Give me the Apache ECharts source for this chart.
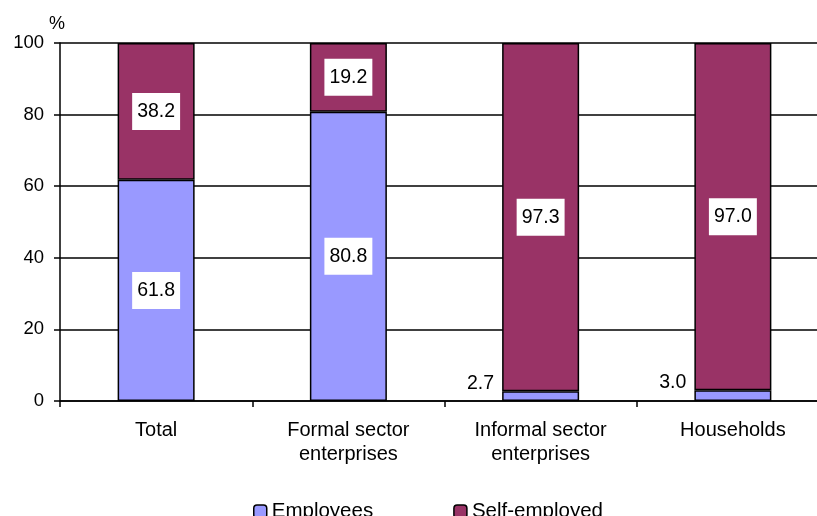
<!DOCTYPE html>
<html>
<head>
<meta charset="utf-8">
<script src="https://cdn.jsdelivr.net/npm/echarts@6/dist/echarts.min.js"></script>
<style>html,body{margin:0;padding:0;background:#fff}#c{width:817px;height:516px}</style>
</head>
<body>
<div id="c"></div>
<script>
var categories = ['Total', 'Formal sector\nenterprises', 'Informal sector\nenterprises', 'Households'];
var employees = [61.8, 80.8, 2.7, 3.0];
var selfEmployed = [38.2, 19.2, 97.3, 97.0];
var yTicks = [0, 20, 40, 60, 80, 100];

var FONT = '"Liberation Sans", Arial, sans-serif';
var boxLabel = {
  show: true, position: 'inside', color: '#000', fontSize: 19.5, fontFamily: FONT,
  backgroundColor: '#fff', padding: [9, 5, 8, 5],
  formatter: function (p) { return p.value.toFixed(1); }
};
var outsideLabel = {
  show: true, position: 'left', offset: [0, -13], distance: 8, color: '#000', fontSize: 19.5, fontFamily: FONT,
  backgroundColor: 'transparent', padding: 0,
  formatter: function (p) { return p.value.toFixed(1); }
};
var empData = employees.map(function (v) {
  return { value: v, label: v < 10 ? outsideLabel : boxLabel };
});

var chart = echarts.init(document.getElementById('c'), null, { renderer: 'canvas' });
chart.setOption({
  animation: false,
  backgroundColor: '#fff',
  grid: { left: 60, width: 769, top: 43, height: 358, containLabel: false, outerBoundsMode: 'none' },
  legend: {
    bottom: -11, left: 248, itemGap: 80, itemWidth: 13, itemHeight: 13,
    textStyle: { fontSize: 20.5, fontFamily: FONT, color: '#000' },
    data: [
      { name: 'Employees', itemStyle: { color: '#9999FF', borderColor: '#000', borderWidth: 1.5 } },
      { name: 'Self-employed', itemStyle: { color: '#993366', borderColor: '#000', borderWidth: 1.5 } }
    ]
  },
  xAxis: {
    type: 'category', data: categories,
    axisLine: { lineStyle: { color: '#000', width: 1.5 } },
    axisTick: { show: true, length: 6, lineStyle: { color: '#000', width: 1.5 } },
    axisLabel: { color: '#000', fontSize: 20, fontFamily: FONT, margin: 17, lineHeight: 24, interval: 0 }
  },
  yAxis: {
    type: 'value', min: yTicks[0], max: yTicks[yTicks.length - 1], interval: 20,
    name: '%', nameLocation: 'end', nameGap: 10,
    nameTextStyle: { color: '#000', fontSize: 18, fontFamily: FONT, align: 'center', padding: [0, 6, 0, 0] },
    axisLine: { show: true, lineStyle: { color: '#000', width: 1.5 } },
    axisTick: { show: true, length: 6, lineStyle: { color: '#000', width: 1.5 } },
    axisLabel: { color: '#000', fontSize: 18.5, fontFamily: FONT, margin: 16 },
    splitLine: { show: true, lineStyle: { color: '#000', width: 1.5 } }
  },
  series: [
    {
      name: 'Employees', type: 'bar', stack: 's', barWidth: 77,
      itemStyle: { color: '#9999FF', borderColor: '#000', borderWidth: 1.5 },
      data: empData
    },
    {
      name: 'Self-employed', type: 'bar', stack: 's', barWidth: 77,
      itemStyle: { color: '#993366', borderColor: '#000', borderWidth: 1.5 },
      label: boxLabel,
      data: selfEmployed
    }
  ]
});
</script>
</body>
</html>
